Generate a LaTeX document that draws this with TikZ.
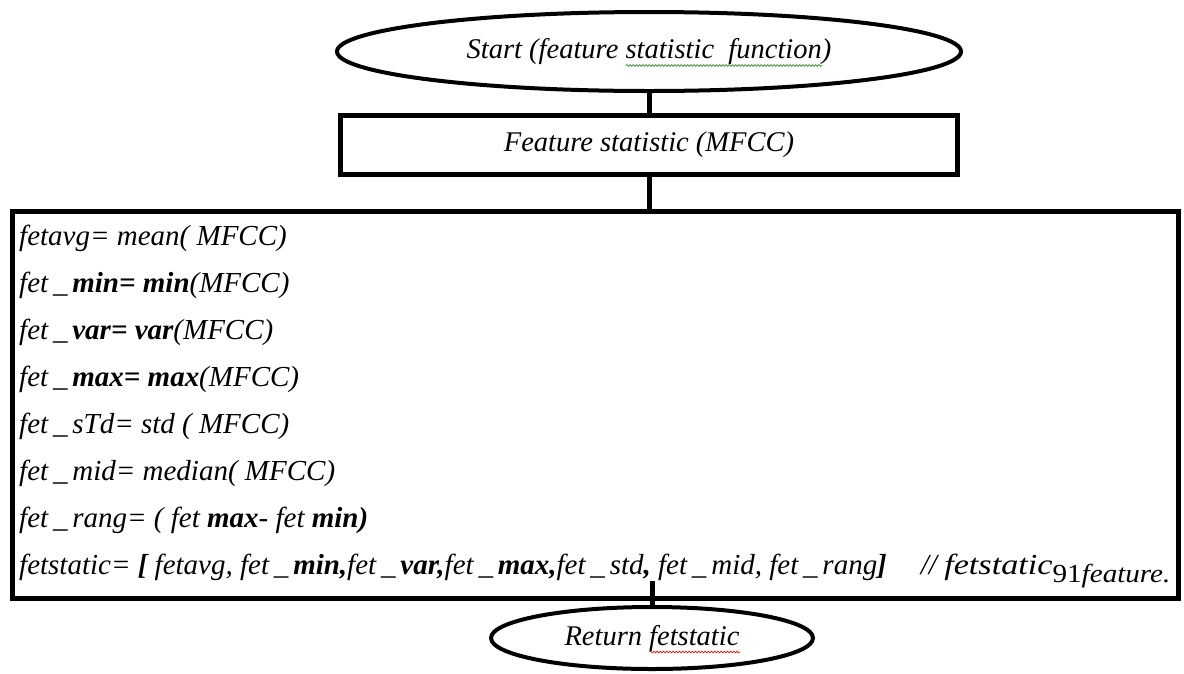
\documentclass[tikz,border=0pt]{standalone}
\usepackage{fontspec}
\setmainfont{Liberation Serif}
\usetikzlibrary{shapes.geometric,calc,decorations.pathmorphing}
\definecolor{spellgreen}{RGB}{70,150,70}
\definecolor{spellred}{RGB}{215,40,40}
\newsavebox\wavybox
\newcommand\wavy[2]{\sbox\wavybox{#2}\leavevmode\rlap{\raisebox{-7pt}[0pt][0pt]{\tikz[x=1cm,y=1cm,baseline=0pt]{\draw[#1,line width=0.8pt,decorate,decoration={snake,amplitude=0.9pt,segment length=3.2pt}] (0pt,0pt) -- (\the\wd\wavybox,0pt);}}}\usebox\wavybox}
\begin{document}
\begin{tikzpicture}[x=1pt,y=-1pt,
  lbl/.style={font=\fontsize{28.5}{33}\selectfont\itshape, text=black},
  term/.style={ellipse, draw, line width=4pt, inner sep=0pt, lbl},
  proc/.style={rectangle, draw, line width=5pt, inner sep=0pt, lbl},
  bigbox/.style={rectangle, draw, line width=5pt, inner sep=0pt},
  code/.style={font=\fontsize{29}{47}\selectfont\itshape, align=left, inner sep=0pt, anchor=west},
  link/.style={line width=5pt}]
\useasboundingbox (0,0) rectangle (1184,673);
\node[term, minimum width=624pt, minimum height=79pt] (start) at (649,51.5)
  {Start (feature \wavy{spellgreen}{statistic\ \ function})};
\node[proc, minimum width=617pt, minimum height=59pt] (feat) at (649,145)
  {Feature statistic (MFCC)};
\node[bigbox, minimum width=1166pt, minimum height=387pt] (calc) at (595.5,405) {};
\node[code] (lines) at ([xshift=9pt,yshift=-2pt]calc.west)
  {fetavg= mean( MFCC)\\
   fet\,\_\,\textbf{min= min}(MFCC)\\
   fet\,\_\,\textbf{var= var}(MFCC)\\
   fet\,\_\,\textbf{max= max}(MFCC)\\
   fet\,\_\,sTd= std ( MFCC)\\
   fet\,\_\,mid= median( MFCC)\\
   fet\,\_\,rang= ( fet \textbf{max}- fet \textbf{min)}\\
   fetstatic= \textbf{[} fetavg, fet\,\_\,\textbf{min,}fet\,\_\,\textbf{var,}fet\,\_\,\textbf{max,}fet\,\_\,std\textbf{,} fet\,\_\,mid, fet\,\_\,rang\textbf{]}\hspace{34pt}// \scalebox{1.18}[1]{fetstatic}\raisebox{-8pt}{\fontsize{26}{26}\selectfont\scalebox{1.12}[1]{\upshape 91\itshape feature.}}};
\node[term, minimum width=322pt, minimum height=62pt] (ret) at (652,638)
  {Return \wavy{spellred}{fetstatic}};
\draw[link] (start.south) -- (feat.north);
\draw[link] (feat.south) -- (feat.south |- calc.north);
\draw[link] ($(ret.north |- calc.south)+(0,-20)$) -- (ret.north);
\end{tikzpicture}
\end{document}
